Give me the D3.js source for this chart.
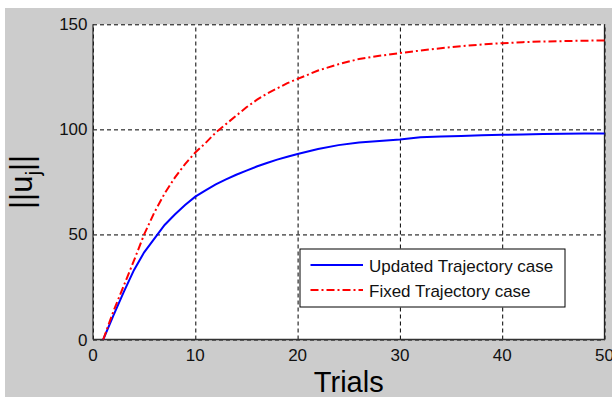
<!DOCTYPE html>
<html>
<head>
<meta charset="utf-8">
<script src="https://cdn.jsdelivr.net/npm/d3@7"></script>
<style>
  body { margin: 0; background: #fff; }
  svg { display: block; font-family: "Liberation Sans", Arial, sans-serif; }
</style>
</head>
<body>
<script>
const width = 612
const height = 397

const trials = [1,2,3,4,5,6,7,8,9,10,11,12,13,14,15,16,17,18,19,20,
                22,24,26,28,30,32,34,36,38,40,42,44,46,48,50]

// ||u_j|| for the updated trajectory case (blue, solid)
const updatedVals = [0,11.5,22.5,33,41.5,48,54.5,59.5,64,68,71,73.8,76.2,78.4,80.4,82.3,84,85.6,87,88.3,
                     90.7,92.5,93.7,94.5,95.2,96.2,96.6,96.9,97.2,97.4,97.6,97.8,97.9,98,98]

// ||u_j|| for the fixed trajectory case (red, dash-dot)
const fixedVals = [0,13.5,25.5,37.5,50,60.5,69.5,77,83.5,89,93.5,98.5,102.5,106.5,110.5,114,117,119.5,122,124,
                   128,131,133.5,135,136.3,137.5,138.6,139.6,140.4,141,141.5,141.8,142,142.2,142.3]

const xTicks = [0,10,20,30,40,50]
const yTicks = [0,50,100,150]
const legendLabels = ['Updated Trajectory case', 'Fixed Trajectory case']

// plot box in pixels
const boxL = 93, boxR = 604.5, boxT = 24.3, boxB = 339.5

const x = d3.scaleLinear().domain([0, 50]).range([boxL, boxR])
const y = d3.scaleLinear().domain([0, 150]).range([boxB, boxT])

const svg = d3.select('body').append('svg')
    .attr('width', width)
    .attr('height', height)

// figure background
svg.append('rect')
    .attr('x', 5).attr('y', 8)
    .attr('width', width - 5).attr('height', height - 8)
    .style('fill', '#cccccc')

// axes area
svg.append('rect')
    .attr('x', boxL).attr('y', boxT)
    .attr('width', boxR - boxL).attr('height', boxB - boxT)
    .style('fill', '#ffffff')

// grid
svg.append('g')
    .attr('transform', `translate(0,${boxB})`)
    .call(d3.axisBottom(x).tickValues(xTicks).tickSize(-(boxB - boxT)).tickFormat(''))
    .call(g => g.select('.domain').remove())
    .selectAll('line')
    .style('stroke', '#000')
    .style('stroke-dasharray', '4,3')
    .style('stroke-width', 1)

svg.append('g')
    .attr('transform', `translate(${boxL},0)`)
    .call(d3.axisLeft(y).tickValues(yTicks).tickSize(-(boxR - boxL)).tickFormat(''))
    .call(g => g.select('.domain').remove())
    .selectAll('line')
    .style('stroke', '#000')
    .style('stroke-dasharray', '4,3')
    .style('stroke-width', 1)

// box
svg.append('line')
    .attr('x1', boxL).attr('y1', boxT).attr('x2', boxL).attr('y2', boxB)
    .style('stroke', '#333').style('stroke-width', 1.3)
svg.append('line')
    .attr('x1', boxL).attr('y1', boxB).attr('x2', boxR).attr('y2', boxB)
    .style('stroke', '#333').style('stroke-width', 1.5)
svg.append('line')
    .attr('x1', boxR).attr('y1', boxT).attr('x2', boxR).attr('y2', boxB)
    .style('stroke', '#222').style('stroke-width', 1.3)

// tick labels
svg.append('g')
    .selectAll('text')
    .data(xTicks)
    .join('text')
    .attr('x', d => x(d))
    .attr('y', 361)
    .attr('text-anchor', 'middle')
    .style('font-size', '17px')
    .style('fill', '#111')
    .text(d => d)

svg.append('g')
    .selectAll('text')
    .data(yTicks)
    .join('text')
    .attr('x', 87.5)
    .attr('y', d => y(d) + 6)
    .attr('text-anchor', 'end')
    .style('font-size', '17px')
    .style('fill', '#111')
    .text(d => d)

// series
const line = d3.line()
    .x((d, i) => x(trials[i]))
    .y(d => y(d))

svg.append('path')
    .datum(updatedVals)
    .attr('d', line)
    .style('fill', 'none')
    .style('stroke', '#0000ff')
    .style('stroke-width', 2)

svg.append('path')
    .datum(fixedVals)
    .attr('d', line)
    .style('fill', 'none')
    .style('stroke', '#ff0000')
    .style('stroke-width', 2)
    .style('stroke-dasharray', '8,3,2,3')

// axis labels
svg.append('text')
    .attr('x', (boxL + boxR) / 2)
    .attr('y', 391.5)
    .attr('text-anchor', 'middle')
    .style('font-size', '29px')
    .style('fill', '#000')
    .text('Trials')

const ylab = svg.append('text')
    .attr('transform', `translate(32,${(boxT + boxB) / 2}) rotate(-90)`)
    .attr('text-anchor', 'middle')
    .style('font-size', '31px')
    .style('fill', '#000')
ylab.append('tspan').text('||u')
ylab.append('tspan').attr('dy', 8).style('font-size', '21px').text('j')
ylab.append('tspan').attr('dy', -8).text('||')

// legend
const legend = svg.append('g')
legend.append('rect')
    .attr('x', 300).attr('y', 249)
    .attr('width', 265).attr('height', 58)
    .style('fill', '#fff')
    .style('stroke', '#000')
    .style('stroke-width', 1)

const legendStyles = [
    {color: '#0000ff', dash: null, yy: 265},
    {color: '#ff0000', dash: '8,3,2,3', yy: 290}
]
legendLabels.forEach((label, i) => {
    legend.append('line')
        .attr('x1', 310.5).attr('x2', 363)
        .attr('y1', legendStyles[i].yy).attr('y2', legendStyles[i].yy)
        .style('stroke', legendStyles[i].color)
        .style('stroke-width', 2)
        .style('stroke-dasharray', legendStyles[i].dash)
    legend.append('text')
        .attr('x', 369)
        .attr('y', legendStyles[i].yy + 7)
        .style('font-size', '17px')
        .style('fill', '#111')
        .text(label)
})
</script>
</body>
</html>
